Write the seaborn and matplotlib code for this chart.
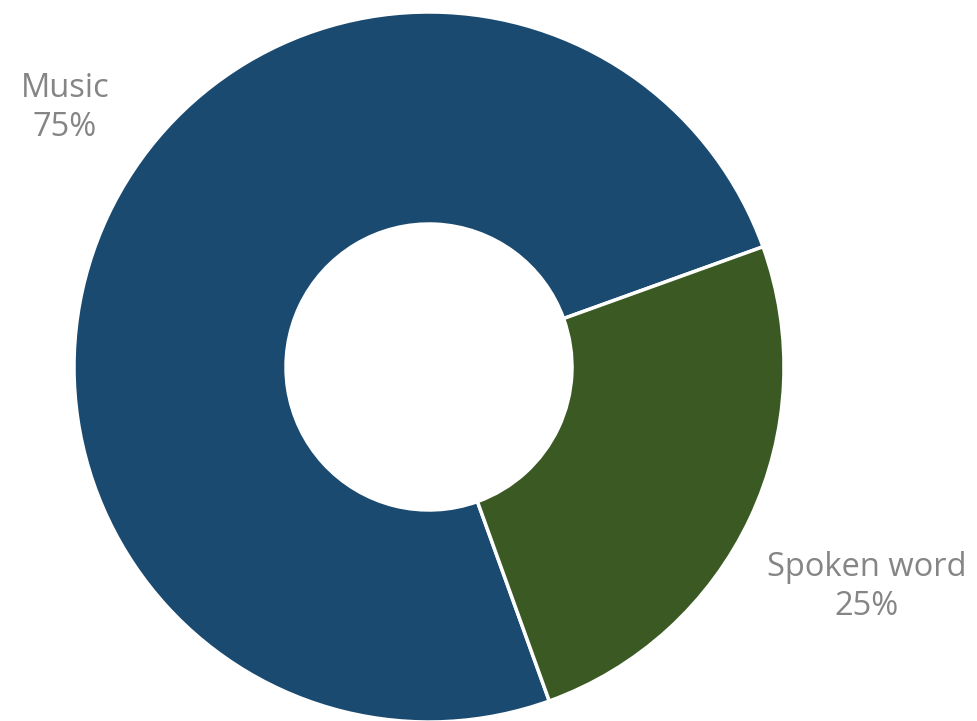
import matplotlib
matplotlib.use("Agg")
import matplotlib.pyplot as plt
import seaborn as sns

categories = ["Music", "Spoken word"]
shares = [75, 25]
colors = ["#1a4a70", "#3b5a23"]

sns.set_theme(style="white")
plt.rcParams["font.family"] = ["Open Sans", "DejaVu Sans"]

W, H = 977, 721
fig = plt.figure(figsize=(W / 100, H / 100), dpi=100)
ax = fig.add_axes([0, 0, 1, 1])

R = 355
hole = 143
ax.pie(
    shares,
    colors=colors,
    startangle=19.8,
    counterclock=True,
    center=(429, H - 367),
    radius=R,
    frame=True,
    wedgeprops=dict(width=R - hole, edgecolor="white", linewidth=2.5),
)
ax.set_xlim(0, W)
ax.set_ylim(0, H)
ax.set_aspect("equal")
ax.axis("off")

label_pos = [(65, 108), (867, 587)]
for name, val, (x, y) in zip(categories, shares, label_pos):
    ax.text(x, H - y, f"{name}\n{val}%", ha="center", va="center",
            fontsize=23.5, color="#858585", linespacing=1.25)

sns.despine(ax=ax, left=True, bottom=True)
fig.savefig("out.png", dpi=100)
